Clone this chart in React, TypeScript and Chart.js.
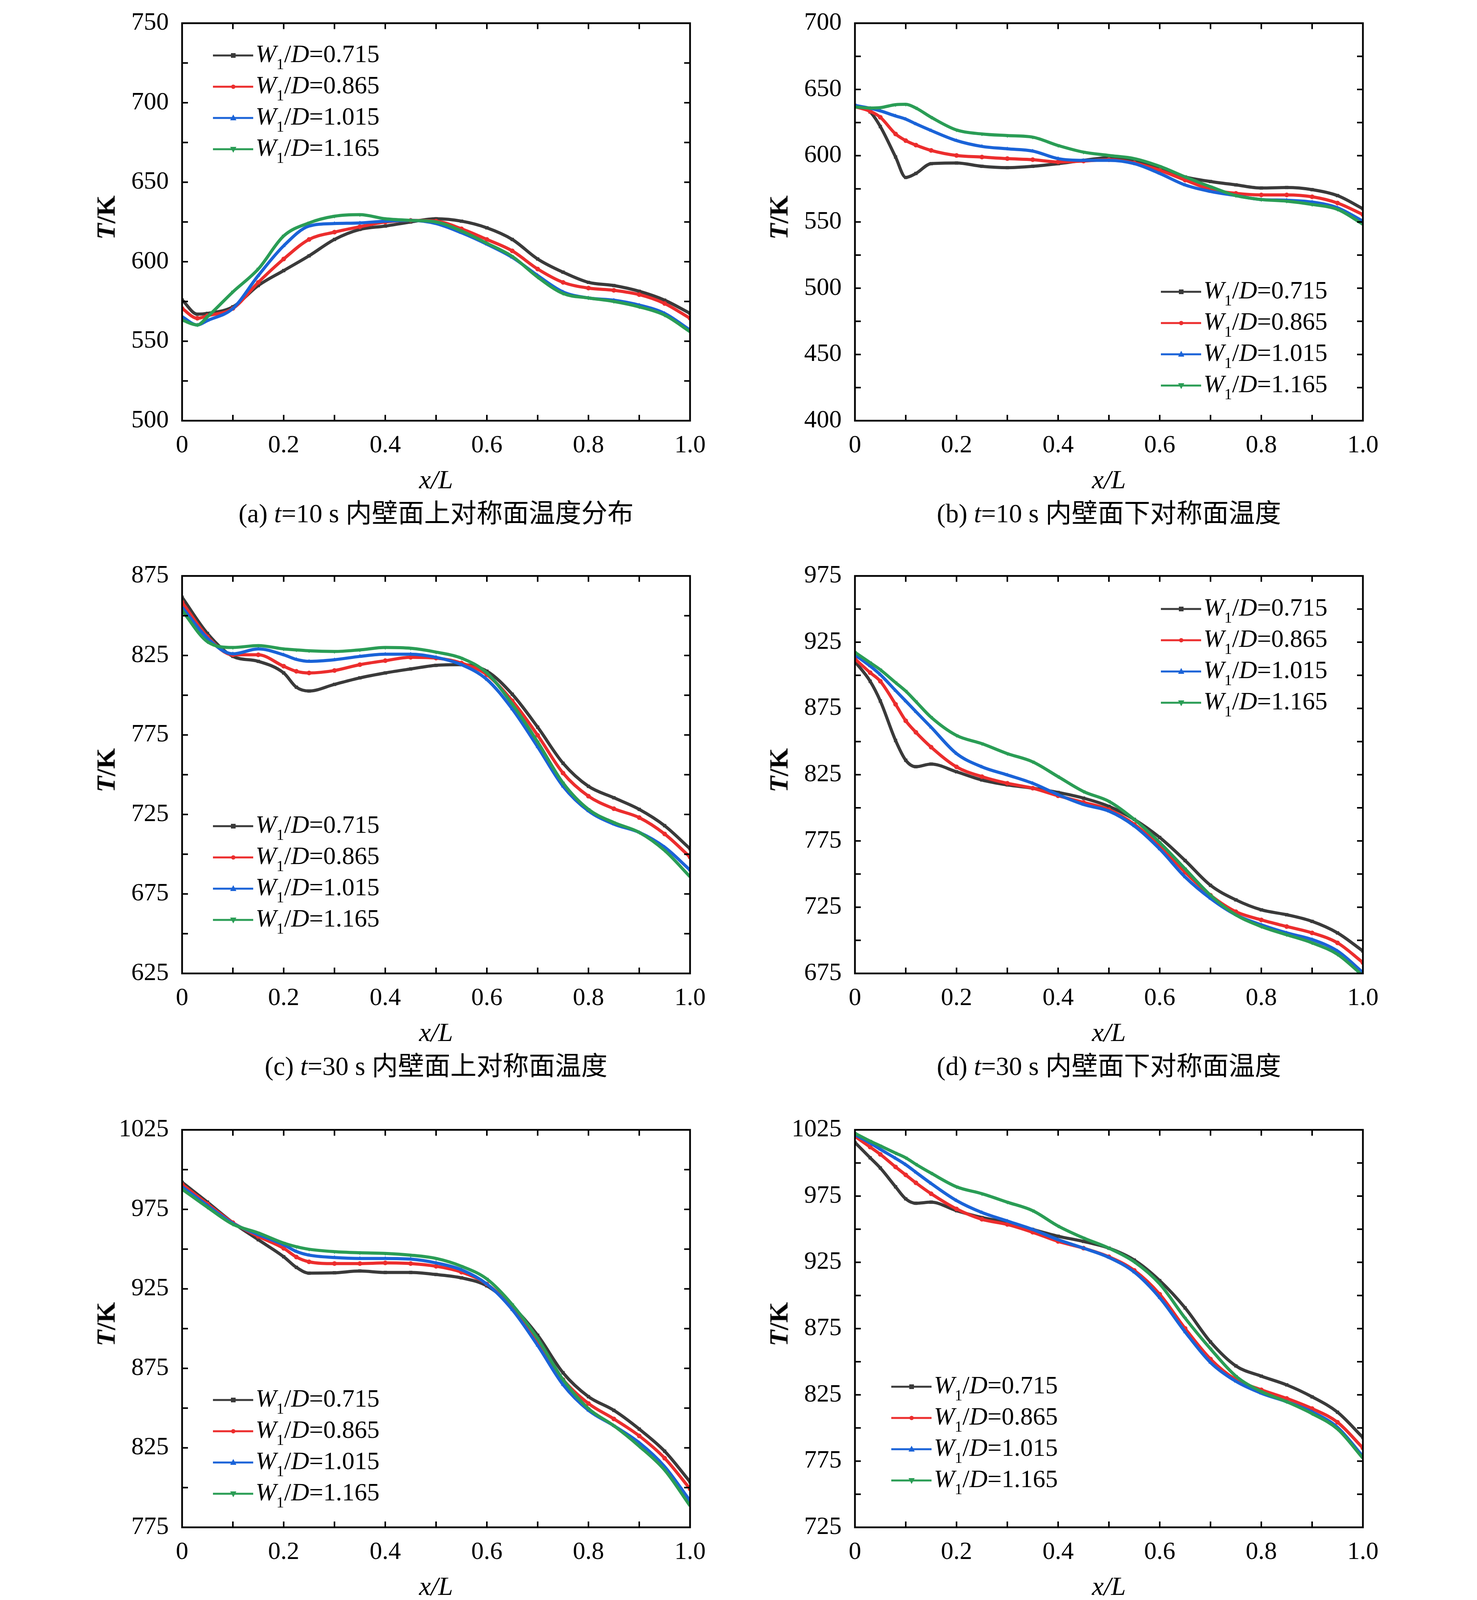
import { useEffect, useRef } from "react";
import { Chart, registerables, type Plugin } from "chart.js";

Chart.register(...registerables);

// ---- data ----
const RATIOS = ["0.715", "0.865", "1.015", "1.165"];
const X_MARKS = [0.1, 0.2, 0.3, 0.4, 0.5, 0.6, 0.7, 0.8, 0.9];

const X_A = [0, 0.03, 0.05, 0.1, 0.15, 0.2, 0.25, 0.3, 0.35, 0.4, 0.45, 0.5, 0.55, 0.6, 0.65, 0.7, 0.75, 0.8, 0.85, 0.9, 0.95, 1];
const X_DIP = [0, 0.03, 0.05, 0.08, 0.1, 0.12, 0.15, 0.2, 0.25, 0.3, 0.35, 0.4, 0.45, 0.5, 0.55, 0.6, 0.65, 0.7, 0.75, 0.8, 0.85, 0.9, 0.95, 1];
const X_STEP = [0, 0.05, 0.1, 0.15, 0.2, 0.225, 0.25, 0.3, 0.35, 0.4, 0.45, 0.5, 0.55, 0.6, 0.65, 0.7, 0.75, 0.8, 0.85, 0.9, 0.95, 1];
const X_EVEN = [0, 0.05, 0.1, 0.15, 0.2, 0.25, 0.3, 0.35, 0.4, 0.45, 0.5, 0.55, 0.6, 0.65, 0.7, 0.75, 0.8, 0.85, 0.9, 0.95, 1];

// (a) t=10 s upper
const A_715 = [576, 567, 567.5, 571.6, 585, 594.4, 603.7, 614, 620.3, 622.4, 625, 627, 625.5, 621.3, 614, 601.7, 593.4, 587, 585, 581.4, 575.8, 567.5];
const A_865 = [570.6, 564.4, 566, 570.6, 587, 601.7, 614, 618.6, 622, 624.9, 626, 625.5, 620.7, 614, 606.8, 595.4, 587, 583.4, 582, 579.3, 573.7, 564.4];
const A_1015 = [565.4, 560.2, 563, 570.6, 591.3, 610, 622.4, 624, 624.4, 625.5, 626, 624, 618.2, 611, 602.7, 591.3, 581, 577.2, 575.8, 572.7, 567.5, 557];
const A_1165 = [563.3, 560.2, 565.4, 581, 595.4, 616.2, 624.4, 628.6, 629.6, 627, 626, 625, 619.3, 611.6, 603.3, 590.3, 580, 577.2, 575, 571.6, 566.4, 556];

// (b) t=10 s lower
const B_715 = [638, 633, 622, 599, 583.6, 586.6, 594, 594.5, 592, 591, 592, 594, 596.5, 598.5, 596, 590.3, 584, 580.5, 578, 575.6, 576, 574.4, 569.9, 560];
const B_865 = [637, 633.5, 629, 616.4, 611.4, 608, 604, 600.2, 599, 597.8, 597, 595.3, 596, 597, 594.5, 589, 581.6, 574.6, 571.6, 570.4, 570.4, 569, 564.3, 555.6];
const B_1015 = [638, 635.8, 633.8, 630, 627.6, 624, 619, 611.4, 607, 605.2, 603.5, 597.8, 596.5, 596.5, 594, 586.6, 577.9, 573, 569.9, 566.9, 566.4, 565, 560.7, 550.6];
const B_1165 = [636.8, 636, 636.3, 638.5, 638.8, 636, 629, 619.4, 616.4, 615.2, 614, 607.7, 602.7, 600.2, 597.8, 592, 584, 576.6, 569.9, 566.9, 565.7, 563.2, 559.5, 548.3];

// (c) t=30 s upper
const C_715 = [861.6, 838.8, 824.4, 821.3, 814, 805, 802.6, 806.8, 810.9, 814, 816.5, 818.8, 819.2, 815.1, 800.6, 779.9, 757.2, 742.7, 735.5, 728.2, 717.9, 703.4];
const C_865 = [858.5, 836.8, 825.4, 825.4, 818.2, 815, 814, 815.5, 819.2, 821.7, 823.8, 823.3, 820.2, 812.9, 796.5, 774.8, 751, 736.5, 728.6, 723, 712.7, 698.2];
const C_1015 = [855.4, 835.8, 826, 829.1, 825.4, 822.5, 821.3, 822.3, 824.4, 825.8, 825.8, 823.8, 819.2, 809.9, 791.3, 767.5, 742.7, 727.2, 718.9, 713.7, 704.4, 690];
const C_1165 = [853.3, 833.6, 830, 831.2, 829.1, 828.5, 827.9, 827.5, 828.5, 830, 829.5, 827.1, 823.3, 814, 794.4, 770.6, 744.8, 728.2, 719.9, 713.7, 702.3, 685.8];

// (d) t=30 s lower
const D_715 = [910.4, 895.5, 880.6, 850.8, 835.9, 831, 833, 827.2, 821, 817.3, 814.8, 811.6, 807.3, 801.1, 791.2, 777.6, 760.2, 741.5, 730.5, 723, 719.3, 714.3, 705.6, 691.9];
const D_865 = [912.4, 902, 895.5, 878.1, 865.7, 857, 845.8, 830.9, 823.5, 818.5, 814.8, 809.1, 804.1, 798.6, 787.5, 771.3, 751.4, 734, 721.6, 715.4, 710.4, 705.6, 698.1, 683.2];
const D_1015 = [915.4, 907, 900.5, 888.5, 880.6, 872.6, 860.8, 840.9, 830.9, 824.8, 818.5, 809.9, 802.5, 797.5, 786.3, 768.9, 747.8, 731.6, 719.2, 711.7, 705.6, 700.6, 691.9, 675.7];
const D_1165 = [917.4, 909.5, 904.2, 894.5, 888.1, 880.2, 868.3, 854.6, 848.4, 840.9, 834.7, 823.5, 812.3, 804.9, 791.2, 773.8, 753.9, 734, 719.2, 710.4, 704.2, 698.1, 689.4, 673.3];

// (e) t=50 s upper
const E_715 = [992, 979.5, 966.6, 955.9, 945.2, 938.5, 934.9, 935.1, 936.2, 935.3, 935.3, 934, 931.9, 926.9, 914.1, 895.8, 872.2, 857.2, 848.6, 836.8, 822.9, 803.6];
const E_865 = [990.7, 978.4, 966.6, 958, 950.5, 945, 942, 940.9, 940.9, 941.3, 940.9, 939.2, 935.5, 928, 913, 891.5, 867.9, 852.9, 843.2, 832.5, 818.5, 799.2];
const E_1015 = [989.2, 977.4, 966.2, 959.1, 952.7, 948.5, 946.2, 944.7, 944.1, 944.1, 943.7, 941.3, 937, 928, 911.9, 889.4, 864.7, 848.6, 838.9, 828.2, 813.2, 791.7];
const E_1165 = [987.7, 976.3, 965.6, 960.2, 953.8, 951.5, 949.9, 948.4, 947.7, 947.3, 946.2, 944.1, 939.2, 931.2, 915.1, 893.7, 867.9, 849.7, 838.9, 826, 811, 788.5];

// (f) t=50 s lower
const F_715 = [1015.5, 1003.9, 996.2, 982, 972.9, 969.6, 970.4, 964, 958.8, 955, 949.8, 944.7, 940.8, 935.7, 926.7, 911.2, 890.6, 864.9, 846.8, 839.1, 832.5, 823.5, 811.9, 792.8];
const F_865 = [1020.1, 1012, 1006.5, 997, 991, 985, 976.8, 965.3, 957.5, 953.6, 947.7, 940.8, 935.7, 929.2, 918.9, 900.9, 875.1, 852, 836.5, 828.8, 822.3, 814.6, 804.3, 784.9];
const F_1015 = [1021.4, 1015, 1010.3, 1003.5, 998.7, 993, 984.5, 971.6, 962.6, 956.2, 949.8, 942.1, 935.7, 928.7, 917.6, 898.3, 872.5, 849.4, 835.2, 826.2, 819.8, 812.1, 800.5, 778.5];
const F_1165 = [1022.4, 1016.5, 1012.9, 1007.5, 1003.9, 999, 992.3, 982, 976.8, 970.4, 964, 952.4, 943.4, 935.7, 925.4, 908.7, 882.9, 859.7, 839.1, 827.5, 819.8, 810.8, 799.2, 777.2];

// (g) t=100 s upper
const G_715 = [1060.4, 1057.6, 1053.9, 1050.3, 1046.8, 1043.2, 1043.8, 1044.7, 1044.3, 1043.6, 1042.5, 1041, 1038.9, 1033.5, 1024.9, 1013, 1001.2, 992.7, 986.2, 975.4, 958.3, 935.7];
const G_865 = [1062.5, 1060.4, 1057.6, 1054.6, 1049.6, 1047.3, 1046.6, 1047.3, 1047.9, 1047.3, 1046.4, 1045.3, 1042.1, 1035.5, 1027, 1014.2, 1002.2, 993.1, 986.2, 974.8, 958, 938];
const G_1015 = [1062.8, 1060.6, 1058, 1055, 1050, 1047, 1046.8, 1047.5, 1048.1, 1047.5, 1046.4, 1045, 1041.5, 1033.9, 1024.9, 1012.2, 1000.1, 992.2, 985.6, 974, 956.8, 936.5];
const G_1165 = [1062.3, 1060.2, 1057.4, 1054.2, 1049.3, 1047.7, 1047.5, 1047.9, 1048.5, 1048.1, 1047, 1046, 1043.9, 1038.7, 1030.3, 1017.4, 1004.4, 994, 986.5, 974.6, 957.2, 935];

// (h) t=100 s lower
const H_715 = [1060.8, 1059.3, 1058, 1056.7, 1054.1, 1052.3, 1050.5, 1048.4, 1045.8, 1043.8, 1040.7, 1035.5, 1029.1, 1021.3, 1011, 1003.2, 998.1, 991.7, 982.6, 968.4, 947.8];
const H_865 = [1062.6, 1061.8, 1060.8, 1058.8, 1056.2, 1054.1, 1052.3, 1049.7, 1045.8, 1043.3, 1039.4, 1034.2, 1026.5, 1016.2, 1005.9, 996.8, 989.1, 981.3, 971, 955.5, 934.9];
const H_1015 = [1063.9, 1062.8, 1061.8, 1059.6, 1057.5, 1055.3, 1053.1, 1050, 1046.4, 1043, 1039.4, 1033.5, 1025.2, 1014.9, 1004.6, 995.5, 987.8, 980, 969.7, 954.2, 932.3];
const H_1165 = [1064.4, 1063.5, 1062.6, 1061, 1059.3, 1057.5, 1055.7, 1053, 1049.7, 1046.5, 1043.3, 1038.6, 1031.6, 1022.6, 1011, 999.4, 990.4, 981.8, 971, 955.5, 931];

// (i) t=300 s upper
const I_715 = [1061.1, 1060.4, 1056.1, 1052.8, 1052.2, 1050.2, 1050.6, 1052.2, 1052.8, 1053.9, 1054.5, 1054.5, 1053.4, 1051.3, 1048.4, 1043.4, 1039.6, 1037, 1034.6, 1030.2, 1020, 1008.6];
const I_865 = [1068.5, 1068.5, 1068, 1066.5, 1062.6, 1060, 1060.6, 1062, 1063, 1063, 1062.4, 1061.5, 1059.8, 1056, 1051, 1044.5, 1037.2, 1030.8, 1025.2, 1017.1, 1001.5, 977.7];
const I_1015 = [1068.7, 1068.7, 1068.3, 1066.8, 1062.8, 1061, 1061.2, 1062.3, 1063.4, 1063.4, 1062.7, 1061.7, 1059.8, 1055.6, 1050.6, 1044, 1036.9, 1030.5, 1025, 1017, 1001.4, 977.5];
const I_1165 = [1068.3, 1068.3, 1067.8, 1066.2, 1062.4, 1060.9, 1061, 1062.2, 1063.2, 1063.3, 1062.8, 1062, 1060.4, 1057, 1052.5, 1046.2, 1039, 1032, 1026, 1017.8, 1002, 977];

// (j) t=300 s lower
const J_715 = [1058.3, 1059.3, 1059.8, 1059.3, 1058.3, 1057.5, 1056.7, 1055.4, 1052.2, 1050.1, 1048.3, 1046.5, 1044.4, 1042.3, 1041, 1039.7, 1037.9, 1035.3, 1031.9, 1024.8, 1013];
const J_865 = [1067.2, 1067.4, 1067.4, 1067.2, 1066.4, 1065.3, 1064, 1062.7, 1060.9, 1058.8, 1056.2, 1052.8, 1048.3, 1043.1, 1037.1, 1032.7, 1028.3, 1022.2, 1013, 998.8, 976];
const J_1015 = [1067.4, 1067.6, 1067.6, 1067.4, 1066.6, 1065.5, 1064.2, 1062.9, 1061, 1058.8, 1056.4, 1053.2, 1048.8, 1043.6, 1037.4, 1032.9, 1028.5, 1022.4, 1013.2, 999, 976.2];
const J_1165 = [1067.3, 1067.5, 1067.5, 1067.3, 1066.6, 1065.6, 1064.5, 1063.4, 1061.8, 1060, 1057.5, 1054.5, 1050, 1044.5, 1038, 1033.3, 1028.8, 1022.6, 1013.4, 999.2, 975.8];

const PANELS = [
  { tag: "a", time: 10, desc: "内壁面上对称面温度分布", x: X_A, series: [A_715, A_865, A_1015, A_1165], yMin: 500, yMax: 750 },
  { tag: "b", time: 10, desc: "内壁面下对称面温度", x: X_DIP, series: [B_715, B_865, B_1015, B_1165], yMin: 400, yMax: 700 },
  { tag: "c", time: 30, desc: "内壁面上对称面温度", x: X_STEP, series: [C_715, C_865, C_1015, C_1165], yMin: 625, yMax: 875 },
  { tag: "d", time: 30, desc: "内壁面下对称面温度", x: X_DIP, series: [D_715, D_865, D_1015, D_1165], yMin: 675, yMax: 975 },
  { tag: "e", time: 50, desc: "内壁面上对称面温度", x: X_STEP, series: [E_715, E_865, E_1015, E_1165], yMin: 775, yMax: 1025 },
  { tag: "f", time: 50, desc: "内壁面下对称面温度", x: X_DIP, series: [F_715, F_865, F_1015, F_1165], yMin: 725, yMax: 1025 },
  { tag: "g", time: 100, desc: "内壁面上对称面温度", x: X_STEP, series: [G_715, G_865, G_1015, G_1165], yMin: 825, yMax: 1075 },
  { tag: "h", time: 100, desc: "内壁面下对称面温度", x: X_EVEN, series: [H_715, H_865, H_1015, H_1165], yMin: 775, yMax: 1075 },
  { tag: "i", time: 300, desc: "内壁面上对称面温度", x: X_STEP, series: [I_715, I_865, I_1015, I_1165], yMin: 825, yMax: 1075 },
  { tag: "j", time: 300, desc: "内壁面下对称面温度", x: X_EVEN, series: [J_715, J_865, J_1015, J_1165], yMin: 775, yMax: 1075 },
];

// ---- layout / style ----
const COLORS = ["#3a3a3a", "#ec2d2d", "#1a63d8", "#2a9d55"];
const POINT_STYLES = ["rect", "circle", "triangle", "triangle"] as const;
const SERIF = '"Liberation Serif", "Times New Roman", "DejaVu Serif", serif';
const CAPTION_FONT = '"Liberation Serif", "Noto Sans CJK SC", serif';

const COL_LEFT = [466, 2188];
const ROW_TOP = [37, 1452, 2870, 4287, 5702];
const PLOT_W = 1300;
const PLOT_H = 1040;
const PAD_L = 200;
const PAD_T = 50;
const PAD_R = 70;
const PAD_B = 110;
const TICK = 15;

// legend offset (line start, first row centre) from plot corner
const LEGEND_POS: Record<string, [number, number]> = {
  a: [79, 105], b: [783, 710], c: [79, 663], d: [783, 107], e: [79, 714],
  f: [93, 680], g: [79, 730], h: [93, 694], i: [79, 723], j: [93, 689],
};
const RIGHT_STEP: Record<string, number> = { j: 12.5 };

const makeFrame = (rightStep: number): Plugin<"line"> => ({
  id: "frame",
  afterDraw(chart) {
    const { ctx, chartArea: a, scales } = chart;
    const xs = scales.x;
    const ys = scales.y;
    ctx.save();
    ctx.strokeStyle = "#000";
    ctx.lineWidth = 4;
    ctx.beginPath();
    X_MARKS.forEach((v) => {
      const px = xs.getPixelForValue(v);
      ctx.moveTo(px, a.bottom);
      ctx.lineTo(px, a.bottom - TICK);
      ctx.moveTo(px, a.top);
      ctx.lineTo(px, a.top + TICK);
    });
    for (let v = ys.min + 25; v < ys.max - 1e-6; v += 25) {
      const py = ys.getPixelForValue(v);
      ctx.moveTo(a.left, py);
      ctx.lineTo(a.left + TICK, py);
    }
    for (let v = ys.min + rightStep; v < ys.max - 1e-6; v += rightStep) {
      const py = ys.getPixelForValue(v);
      ctx.moveTo(a.right, py);
      ctx.lineTo(a.right - TICK, py);
    }
    ctx.stroke();
    ctx.lineWidth = 4.5;
    ctx.strokeRect(a.left, a.top, a.right - a.left, a.bottom - a.top);
    ctx.restore();
  },
});

const Marker = ({ i }: { i: number }) => {
  const c = COLORS[i];
  return (
    <svg width={103} height={30} style={{ display: "block", flex: "none" }}>
      <line x1={0} y1={15} x2={103} y2={15} stroke={c} strokeWidth={5} />
      {i === 0 && <rect x={46} y={9} width={12} height={12} fill={c} />}
      {i === 1 && <circle cx={52} cy={15} r={5.5} fill={c} />}
      {i === 2 && <polygon points="52,6 60,21 44,21" fill={c} />}
      {i === 3 && <polygon points="44,9 60,9 52,24" fill={c} />}
    </svg>
  );
};

const Panel = ({ index }: { index: number }) => {
  const p = PANELS[index];
  const ref = useRef<HTMLCanvasElement>(null);
  const left = COL_LEFT[index % 2];
  const top = ROW_TOP[Math.floor(index / 2)];
  const cw = PLOT_W + PAD_L + PAD_R;
  const ch = PLOT_H + PAD_T + PAD_B;

  useEffect(() => {
    if (!ref.current) return;
    const tickFont = { family: SERIF, size: 64 };
    const chart = new Chart(ref.current, {
      type: "line",
      data: {
        datasets: p.series.map((ys, i) => ({
          label: `W1/D=${RATIOS[i]}`,
          data: p.x.map((xv, k) => ({ x: xv, y: ys[k] })),
          borderColor: COLORS[i],
          backgroundColor: COLORS[i],
          borderWidth: 8,
          pointStyle: POINT_STYLES[i],
          pointRotation: i === 3 ? 180 : 0,
          pointRadius: 6,
          pointBorderWidth: 0,
          cubicInterpolationMode: "monotone" as const,
          order: 3 - i,
        })),
      },
      options: {
        animation: false,
        responsive: false,
        devicePixelRatio: 1,
        layout: { padding: { left: 0, top: PAD_T, right: PAD_R, bottom: 0 } },
        plugins: { legend: { display: false }, tooltip: { enabled: false } },
        scales: {
          x: {
            type: "linear",
            min: 0,
            max: 1,
            afterFit: (s) => {
              s.height = PAD_B;
            },
            grid: { display: false, drawTicks: false },
            border: { display: false },
            ticks: {
              stepSize: 0.2,
              padding: 26,
              color: "#000",
              font: tickFont,
              maxRotation: 0,
              autoSkip: false,
              callback: (v) => (Number(v) === 0 ? "0" : Number(v).toFixed(1)),
            },
          },
          y: {
            type: "linear",
            min: p.yMin,
            max: p.yMax,
            afterFit: (s) => {
              s.width = PAD_L;
            },
            grid: { display: false, drawTicks: false },
            border: { display: false },
            ticks: {
              stepSize: 50,
              padding: 34,
              color: "#000",
              font: tickFont,
              callback: (v) => String(Math.round(Number(v))),
            },
          },
        },
      },
      plugins: [makeFrame(RIGHT_STEP[p.tag] ?? 25)],
    });
    return () => chart.destroy();
  }, [index]);

  const [lx, ly] = LEGEND_POS[p.tag];
  const cx = left + PLOT_W / 2;

  return (
    <>
      <canvas
        ref={ref}
        width={cw}
        height={ch}
        style={{ position: "absolute", left: left - PAD_L, top: top - PAD_T, width: cw, height: ch }}
      />
      <div
        style={{
          position: "absolute",
          left: left - 195,
          top: top + PLOT_H / 2,
          transform: "translate(-50%, -50%) rotate(-90deg)",
          font: `bold 68px ${SERIF}`,
          whiteSpace: "nowrap",
        }}
      >
        <i>T</i>/K
      </div>
      <div
        style={{
          position: "absolute",
          left: cx,
          top: top + PLOT_H + 150,
          transform: "translate(-50%, -50%)",
          font: `italic 68px ${SERIF}`,
          whiteSpace: "nowrap",
        }}
      >
        x/L
      </div>
      {RATIOS.map((r, i) => (
        <div
          key={r}
          style={{
            position: "absolute",
            left: left + lx,
            top: top + ly + i * 80 - 40,
            height: 80,
            display: "flex",
            alignItems: "center",
            font: `64px ${SERIF}`,
            whiteSpace: "nowrap",
          }}
        >
          <Marker i={i} />
          <span style={{ marginLeft: 6, lineHeight: "80px" }}>
            <i>W</i>
            <span style={{ fontSize: "0.62em", position: "relative", top: "0.45em" }}>1</span>/<i>D</i>={r}
          </span>
        </div>
      ))}
      <div
        style={{
          position: "absolute",
          left: cx,
          top: top + PLOT_H + 230,
          transform: "translate(-50%, -50%)",
          font: `67px ${CAPTION_FONT}`,
          whiteSpace: "nowrap",
        }}
      >
        ({p.tag}) <i>t</i>={p.time} s {p.desc}
      </div>
    </>
  );
};

export default function App() {
  return (
    <div
      style={{
        position: "absolute",
        left: 0,
        top: 0,
        width: 3780,
        height: 7021,
        background: "#fff",
        color: "#000",
        overflow: "hidden",
      }}
    >
      {PANELS.map((p, i) => (
        <Panel key={p.tag} index={i} />
      ))}
    </div>
  );
}
